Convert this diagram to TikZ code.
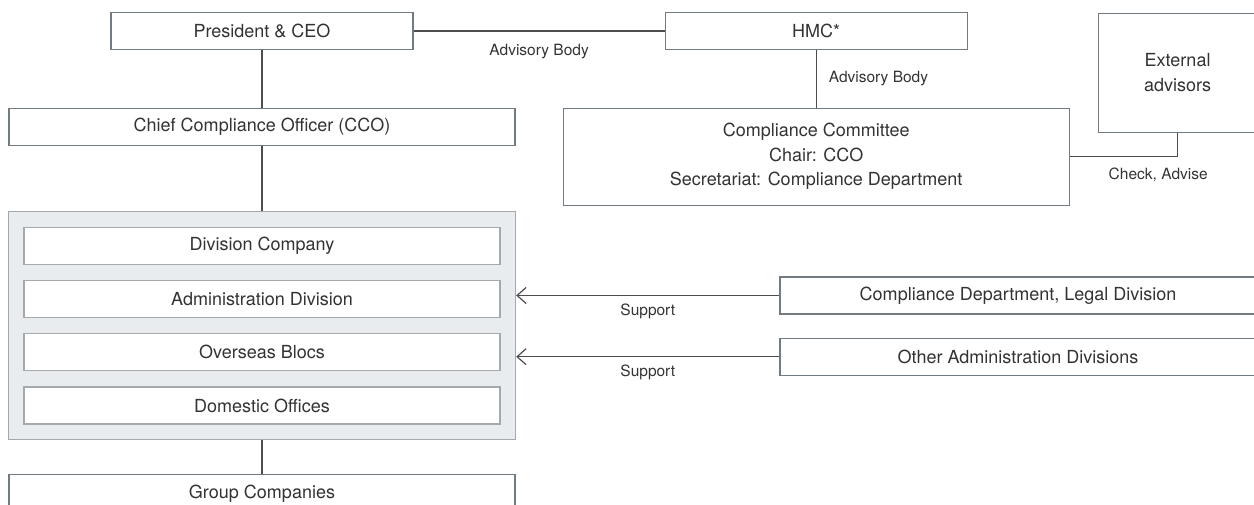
\documentclass[tikz,border=0pt]{standalone}
\usepackage{fontspec}
\setmainfont{TeX Gyre Heros}
\usetikzlibrary{arrows.meta,positioning,fit,backgrounds}
\definecolor{boxgrey}{HTML}{737B82}
\definecolor{innergrey}{HTML}{A3A9AD}
\definecolor{panelfill}{HTML}{E9ECEF}
\definecolor{linegrey}{HTML}{4D4D4D}
\definecolor{textgrey}{HTML}{333333}

\begin{document}
\begin{tikzpicture}[
          x=1pt,y=1pt,
          block/.style={
            draw=boxgrey,
            line width=0.6pt,
            fill=white,
            inner sep=0pt,
            align=center,
            text=textgrey,
            minimum height=18.5pt,
            font=\fontsize{9}{12.25}\selectfont
          },
          unit/.style={block,draw=innergrey,minimum width=238pt},
          lbl/.style={text=textgrey,inner sep=0pt,font=\fontsize{7.75}{9}\selectfont},
          link/.style={draw=linegrey,line width=0.6pt},
          arr/.style={link,-{Straight Barb[length=4.5pt,width=8pt]}}
        ]
        \useasboundingbox (0,0) rectangle (627,-252);
        \clip (0,0) rectangle (627,-252);
        \node[block,minimum width=151pt] (pres) at (131,-15.5) {President \& CEO};
        \node[block,minimum width=151pt,right=125.5pt of pres] (hmc) {HMC*};
        \node[block,minimum width=79pt,minimum height=59.5pt,anchor=north west] (ext) at (549,-6.35) {External\\advisors};
        \node[block,minimum width=253pt,below=28.75pt of pres] (cco) {Chief Compliance Officer (CCO)};
        \node[block,minimum width=253pt,minimum height=48.5pt,below=28.75pt of hmc] (comm) {Compliance Committee\\Chair: CCO\\Secretariat: Compliance Department};
        \node[unit,below=40.5pt of cco] (divco) {Division Company};
        \node[unit,below=7.5pt of divco] (admin) {Administration Division};
        \node[unit,below=7.5pt of admin] (overseas) {Overseas Blocs};
        \node[unit,below=7.5pt of overseas] (domestic) {Domestic Offices};
        \begin{scope}[on background layer]
          \node[draw=innergrey,fill=panelfill,line width=0.6pt,inner sep=7.5pt,fit=(divco)(domestic)] (panel) {};
        \end{scope}
        \node[block,minimum width=253pt,below=17pt of panel] (group) {Group Companies};
        \node[block,minimum width=238pt] (legal) at (509,-147.75) {Compliance Department, Legal Division};
        \node[block,minimum width=238pt,below=11.5pt of legal] (other) {Other Administration Divisions};
        \draw[link] (pres) -- node[lbl,yshift=-10.5pt] {Advisory Body} (hmc);
        \draw[link] (hmc) -- node[lbl,right=6pt] {Advisory Body} (comm);
        \draw[link] (pres) -- (cco);
        \draw[link] (cco) -- (panel);
        \draw[link] (panel) -- (group);
        \draw[link] (comm.east) -| node[lbl,pos=0.41,yshift=-9pt] {Check, Advise} (ext.south);
        \draw[arr] (legal) -- node[lbl,yshift=-8pt] {Support} (legal -| panel.east);
        \draw[arr] (other) -- node[lbl,yshift=-8pt] {Support} (other -| panel.east);
      \end{tikzpicture}
\end{document}
